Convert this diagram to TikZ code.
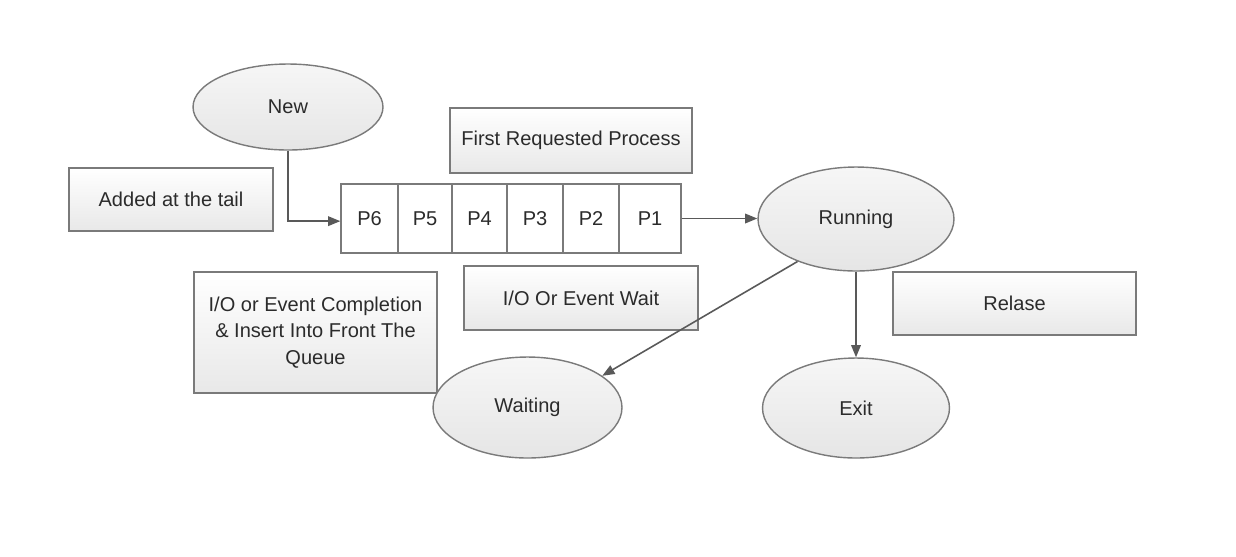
\documentclass[tikz,border=0pt]{standalone}
\usepackage{fontspec}
\setmainfont{Liberation Sans}
\usetikzlibrary{arrows.meta,shapes.geometric,shadows}
\definecolor{bordergray}{HTML}{7A7A7A}
\definecolor{textc}{HTML}{2B2B2B}
\definecolor{arrowc}{HTML}{595959}
\begin{document}
\begin{tikzpicture}[x=0.02cm,y=-0.02cm,
 font=\fontsize{11.4}{15}\selectfont,
 bx/.style={draw=bordergray, line width=0.8pt, top color=white, bottom color=gray!18,
   drop shadow={shadow xshift=0.8pt,shadow yshift=-0.8pt,opacity=0.35,fill=gray},
   inner sep=0pt, align=center, text=textc},
 el/.style={ellipse, draw=bordergray, line width=0.8pt, top color=gray!7, bottom color=gray!20,
   inner sep=0pt, text=textc},
 cell/.style={draw=bordergray, line width=0.8pt, fill=white, minimum height=1.38cm, inner sep=0pt, text=textc},
 arr/.style={draw=arrowc, line width=0.9pt, -{Triangle[length=7pt,width=5.5pt]}}
]
\useasboundingbox (0,0) rectangle (1236,556);

\node[el, minimum width=3.8cm, minimum height=1.72cm] (new) at (288,107) {New};
\node[bx, minimum width=4.84cm, minimum height=1.3cm] (first) at (571,140.5) {First Requested Process};
\node[bx, minimum width=4.08cm, minimum height=1.26cm] (tail) at (171,199.5) {Added at the tail};

\node[cell, minimum width=1.14cm] (q6) at (369.5,218.5) {P6};
\node[cell, minimum width=1.08cm] (q5) at (425,218.5) {P5};
\node[cell, minimum width=1.10cm] (q4) at (479.5,218.5) {P4};
\node[cell, minimum width=1.12cm] (q3) at (535,218.5) {P3};
\node[cell, minimum width=1.12cm] (q2) at (591,218.5) {P2};
\node[cell, minimum width=1.24cm] (q1) at (650,218.5) {P1};

\node[el, minimum width=3.92cm, minimum height=2.08cm] (run) at (856,219) {Running};
\node[bx, minimum width=4.86cm, minimum height=1.26cm] (relase) at (1014.5,303.5) {Relase};
\node[el, minimum width=3.74cm, minimum height=2.0cm] (exit) at (856,408) {Exit};
\node[bx, minimum width=4.68cm, minimum height=1.28cm] (iowait) at (581,298) {I/O Or Event Wait};
\node[bx, minimum width=4.86cm, minimum height=2.42cm] (iocomp) at (315.5,332.5)
  {I/O or Event Completion\\ \& Insert Into Front The\\ Queue};
\node[el, minimum width=3.78cm, minimum height=2.02cm] (waiting) at (527.5,407.5) {Waiting};

\draw[arr] (new.south) |- ([yshift=-1.5pt]q6.west);
\draw[arr] (q1.east) -- (q1.east -| run.west);
\draw[arr] (run.south) -- (exit.north);
\draw[arr] (run.216) -- (waiting.23);
\end{tikzpicture}
\end{document}
